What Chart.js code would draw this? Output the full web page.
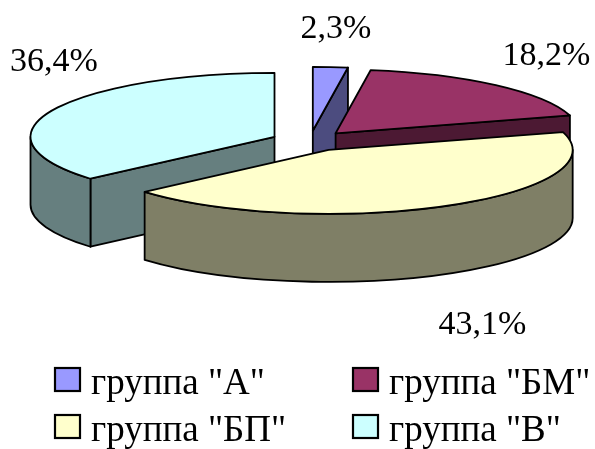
<!DOCTYPE html>
<html>
<head>
<meta charset="utf-8">
<script src="https://cdn.jsdelivr.net/npm/chart.js@4.4.1/dist/chart.umd.min.js"></script>
<style>
    html, body { margin: 0; background: #fff; }
    #wrap { width: 595px; height: 449px; }
</style>
</head>
<body>
<div id="wrap"><canvas id="pie"></canvas></div>
<script>
const groups = ['группа "А"', 'группа "БМ"', 'группа "БП"', 'группа "В"'];
const shares = [2.3, 18.2, 43.1, 36.4];
const topColors = ["#9999FF", "#993366", "#FFFFCC", "#CCFFFF"];

// look of the 3d pie
const TILT = 0.262;     // vertical squash of the pie plate
const DEPTH = 68;       // thickness of the plate
const EXPLODE = 39;     // how far each slice is pulled out
const EDGE = 1.8;
const FONT = '"Liberation Serif", "Times New Roman", serif';

function darker(hex) {
    const n = parseInt(hex.slice(1), 16);
    return `rgb(${(n >> 16) >> 1},${((n >> 8) & 255) >> 1},${(n & 255) >> 1})`;
}

// arc that draws itself as an exploded 3d slice
class Arc3D extends Chart.ArcElement {
    static id = "arc3d";

    draw(ctx, area) {
        const { x, y, startAngle: a0, endAngle: a1, outerRadius: R } = this;
        if (a1 - a0 <= 0) return;

        const mid = (a0 + a1) / 2;
        const ox = x + Math.cos(mid) * EXPLODE;
        const oy = y + Math.sin(mid) * EXPLODE * TILT;
        const ry = R * TILT;

        ctx.save();
        ctx.lineWidth = EDGE;
        ctx.strokeStyle = "#000";
        ctx.lineJoin = "round";
        ctx.fillStyle = darker(this.options.backgroundColor);

        const face = t => {
            const px = ox + R * Math.cos(t);
            const py = oy + ry * Math.sin(t);
            ctx.beginPath();
            ctx.moveTo(ox, oy);
            ctx.lineTo(px, py);
            ctx.lineTo(px, py + DEPTH);
            ctx.lineTo(ox, oy + DEPTH);
            ctx.closePath();
            ctx.fill();
            ctx.stroke();
        };
        if (Math.cos(a0) < 0) face(a0);
        if (Math.cos(a1) > 0) face(a1);

        const w0 = Math.max(a0, 0);
        const w1 = Math.min(a1, Math.PI);
        if (w1 > w0) {
            ctx.beginPath();
            ctx.ellipse(ox, oy, R, ry, 0, w0, w1);
            ctx.ellipse(ox, oy + DEPTH, R, ry, 0, w1, w0, true);
            ctx.closePath();
            ctx.fill();
            ctx.stroke();
        }
        ctx.restore();

        // top of the slice: the normal chart.js arc, squashed
        ctx.save();
        ctx.translate(ox, oy);
        ctx.scale(1, TILT);
        ctx.translate(-x, -y);
        super.draw(ctx, area);
        ctx.restore();

        ctx.save();
        ctx.beginPath();
        ctx.moveTo(ox, oy);
        ctx.ellipse(ox, oy, R, ry, 0, a0, a1);
        ctx.closePath();
        ctx.lineWidth = EDGE;
        ctx.strokeStyle = "#000";
        ctx.lineJoin = "round";
        ctx.stroke();
        ctx.restore();
    }
}

class Pie3DController extends Chart.PieController {
    static id = "pie3d";
    static defaults = { dataElementType: "arc3d" };

    draw() {
        const ctx = this.chart.ctx;
        const area = this.chart.chartArea;
        const depthOf = el => Math.sin((el.startAngle + el.endAngle) / 2);
        this._cachedMeta.data
            .filter(el => !el.hidden)
            .sort((p, q) => depthOf(p) - depthOf(q))
            .forEach(el => el.draw(ctx, area));
    }
}

Chart.register(Arc3D, Pie3DController);

const LABEL_RX = 360;
const LABEL_RY = 112;

const sliceLabels = {
    id: "sliceLabels",
    afterDatasetsDraw(chart) {
        const ctx = chart.ctx;
        const meta = chart.getDatasetMeta(0);
        ctx.save();
        ctx.font = `34px ${FONT}`;
        ctx.fillStyle = "#000";
        ctx.textAlign = "center";
        ctx.textBaseline = "middle";
        meta.data.forEach((el, i) => {
            const text = shares[i].toFixed(1).replace(".", ",") + "%";
            const w = ctx.measureText(text).width;
            const mid = (el.startAngle + el.endAngle) / 2;
            let c = Math.cos(mid);
            let s = Math.sin(mid);
            let lx = el.x + c * LABEL_RX;
            const minX = 10 + w / 2;
            const maxX = chart.width - 2 - w / 2;
            if (lx < minX || lx > maxX) {
                // slide along the label ellipse until the text fits
                lx = Math.min(Math.max(lx, minX), maxX);
                c = (lx - el.x) / LABEL_RX;
                s = Math.sign(s) * Math.sqrt(Math.max(0, 1 - c * c));
            }
            const ly = el.y + s * LABEL_RY + (s > 0 ? DEPTH + 18 : 0);
            ctx.fillText(text, lx, ly);
        });
        ctx.restore();
    }
};

const legendCols = [55, 353];
const legendRows = [394, 441];

const boxLegend = {
    id: "boxLegend",
    afterDraw(chart) {
        const ctx = chart.ctx;
        const colors = chart.data.datasets[0].backgroundColor;
        ctx.save();
        ctx.font = `37px ${FONT}`;
        ctx.textBaseline = "alphabetic";
        ctx.textAlign = "left";
        chart.data.labels.forEach((label, i) => {
            const bx = legendCols[i % 2];
            const base = legendRows[Math.floor(i / 2)];
            ctx.fillStyle = colors[i];
            ctx.fillRect(bx, base - 26, 25, 23);
            ctx.lineWidth = 2.2;
            ctx.strokeStyle = "#000";
            ctx.strokeRect(bx, base - 26, 25, 23);
            ctx.fillStyle = "#000";
            ctx.fillText(label, bx + 36, base);
        });
        ctx.restore();
    }
};

new Chart(document.getElementById("pie"), {
    type: "pie3d",
    data: {
        labels: groups,
        datasets: [{
            data: shares,
            backgroundColor: topColors,
            borderWidth: 0,
            clip: false
        }]
    },
    options: {
        responsive: true,
        maintainAspectRatio: false,
        animation: false,
        events: [],
        radius: 244,
        layout: { padding: { left: 25, right: 0, top: 0, bottom: 167 } },
        plugins: {
            legend: { display: false },
            tooltip: { enabled: false }
        }
    },
    plugins: [sliceLabels, boxLegend]
});
</script>
</body>
</html>
